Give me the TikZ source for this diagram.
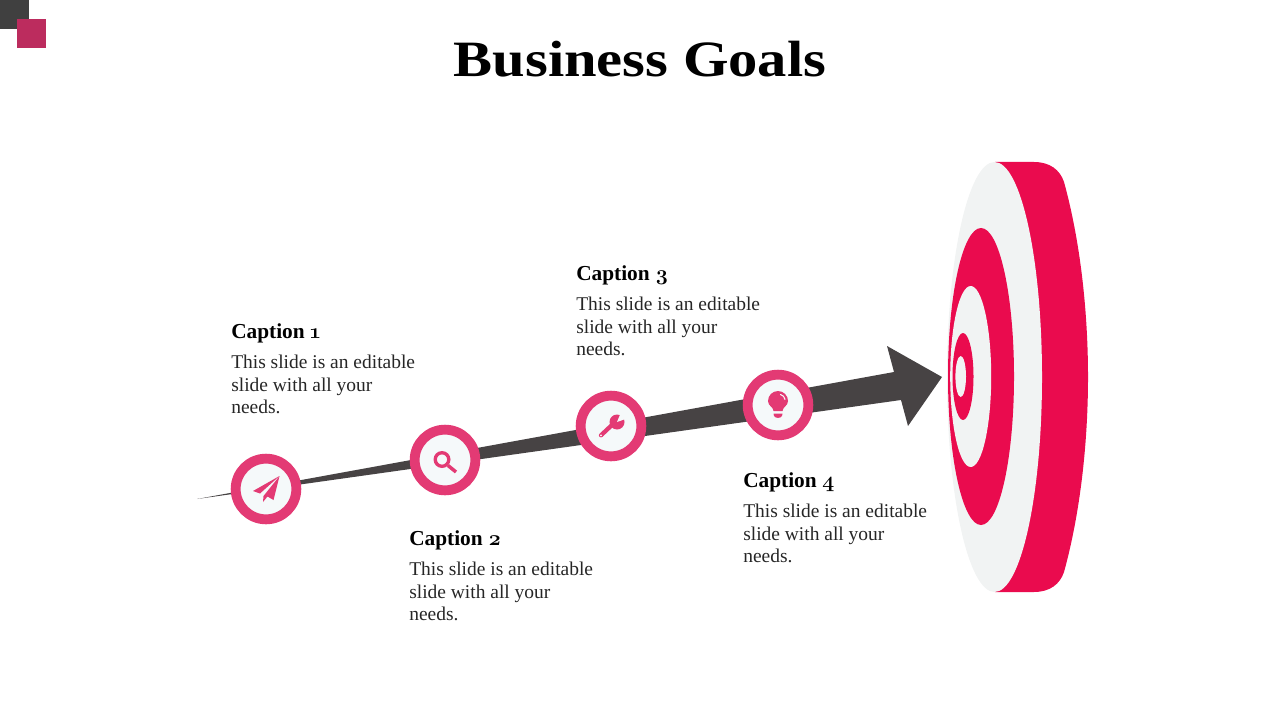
\documentclass[tikz,border=0pt]{standalone}
\usepackage{fontspec}
\setmainfont{Liberation Serif}
\newfontfamily\titlefont[FakeStretch=1.15]{Liberation Serif}
\newfontfamily\oldnums[Numbers=OldStyle]{Latin Modern Roman}
\usepackage{tikz}
\usetikzlibrary{positioning}
\definecolor{targetred}{HTML}{EA0B4E}
\definecolor{targetpale}{HTML}{F1F3F3}
\definecolor{arrowgray}{HTML}{474344}
\definecolor{ringpink}{HTML}{E33A74}
\definecolor{ringfill}{HTML}{F5F9FA}
\definecolor{cornerdark}{HTML}{404040}
\definecolor{cornerpink}{HTML}{BC2C5E}
\definecolor{bodygray}{HTML}{262626}
\tikzset{
    stepring/.style={circle, draw=ringpink, fill=ringfill, line width=7.4pt, minimum size=45.5pt, inner sep=0pt},
    capbold/.style={anchor=base west, inner sep=0pt, font=\fontsize{16}{18}\selectfont\bfseries},
    capbody/.style={anchor=north west, inner sep=0pt, align=left, text=bodygray, font=\fontsize{14.6}{17}\selectfont},
}
\begin{document}
\begin{tikzpicture}[x=0.75pt, y=-0.75pt]
    \useasboundingbox (0,0) rectangle (1280,720);
    % corner squares
    \fill[cornerdark] (0,0) rectangle (29,29);
    \fill[cornerpink] (17,19) rectangle (46,48);
    \node[anchor=base, inner sep=0pt, font=\fontsize{38.2}{44}\selectfont\titlefont\bfseries] (title) at (640,77) {Business Goals};
    % target
    \fill[targetred] (995,162) -- (1034,162) .. controls (1050,162) and (1060,170) .. (1064,182)
        .. controls (1080,240) and (1088,310) .. (1088,377)
        .. controls (1088,444) and (1080,514) .. (1064,572)
        .. controls (1060,584) and (1050,592) .. (1034,592) -- (995,592) -- cycle;
    \fill[targetpale] (994.5,377) ellipse (47.5 and 215);
    \fill[targetred] (981,376.5) ellipse (33 and 148.5);
    \fill[targetpale] (970.7,376.5) ellipse (20.5 and 90.5);
    \fill[targetred] (963,376.5) ellipse (10.5 and 43.5);
    \fill[targetpale] (960.7,376.5) ellipse (5.3 and 20.5);
    % arrow
    \fill[arrowgray] (197,499) -- (894,372) -- (887,346) -- (942,377) -- (908,426) -- (901,400) -- cycle;
    % rings
    \node[stepring] (ring1) at (266,489) {};
    \node[stepring] (ring2) at (445,460) {};
    \node[stepring] (ring3) at (611,426) {};
    \node[stepring] (ring4) at (778,405) {};
    % icons
    \begin{scope}[shift={(ring1.center)}]
        \fill[ringpink] (13.5,-13) -- (-13,2) -- (-6,4.5) -- cycle;
        \fill[ringpink] (13.5,-13) -- (-2.5,7) -- (-3,13) -- (1.5,7.5) -- (7.5,11) -- cycle;
    \end{scope}
    \begin{scope}[shift={(ring2.center)}]
        \draw[ringpink, line width=2.5pt] (-3,-0.5) circle (6.8);
        \draw[ringpink, line width=2.6pt] (3,5.5) -- (11,12);
    \end{scope}
    \begin{scope}[shift={(ring3.center)}]
        \draw[ringpink, line width=3.2pt, line cap=round] (-10,9.3) -- (2,-2);
        \fill[ringpink] (6,-4) circle (7.5);
        \fill[ringfill] (6,-4) -- (9.5,-12.5) -- (14.5,-7) -- cycle;
        \fill[ringfill] (-10,9.3) circle (1);
    \end{scope}
    \begin{scope}[shift={(ring4.center)}]
        \fill[ringpink] (-4.5,6) .. controls (-4.5,2) and (-10,1) .. (-10,-4) arc[start angle=180, end angle=360, radius=10] .. controls (10,1) and (4.5,2) .. (4.5,6) -- cycle;
        \fill[ringpink] (-4.5,8.5) -- (4.5,8.5) -- (4,11) .. controls (3,13.5) and (-3,13.5) .. (-4,11) -- cycle;
        \draw[ringfill, line width=0.8pt, line cap=round] (2.5,-10.5) .. controls (5,-10) and (6.5,-8) .. (7,-5.5);
    \end{scope}
    % captions
    \foreach \n/\px/\py in {1/231/338, 2/409/545, 3/576/280, 4/743/487} {
        \node[capbold] (cap\n) at (\px,\py) {Caption {\oldnums\n}};
        \node[capbody, below=12.5pt of cap\n.base west, anchor=north west] (body\n) {This slide is an editable\\slide with all your\\needs.};
    }
\end{tikzpicture}
\end{document}
